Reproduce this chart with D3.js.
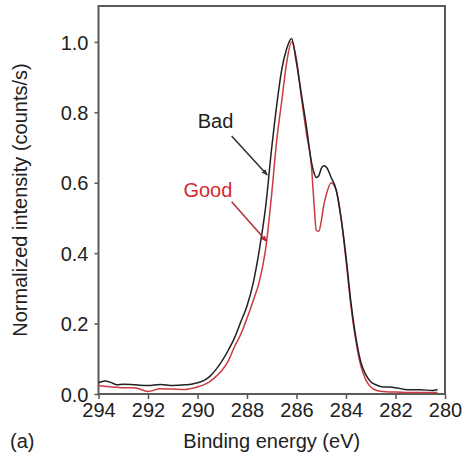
<!DOCTYPE html>
<html>
<head>
<meta charset="utf-8">
<script src="https://cdn.jsdelivr.net/npm/d3@7"></script>
<style>
  html, body { margin: 0; padding: 0; background: #fff; }
  text { font-family: "Liberation Sans", Arial, sans-serif; fill: #222; }
</style>
</head>
<body>
<div id="chart"></div>
<script>
// binding energies (eV), shared by both spectra
const energies = [294, 293.75, 293.5, 293.25, 293, 292.5, 292, 291.5, 291, 290.5, 290.25, 290,
  289.75, 289.5, 289.25, 289, 288.75, 288.5, 288.25, 288, 287.75, 287.5, 287.25, 287,
  286.8, 286.6, 286.4, 286.2, 286.0, 285.8, 285.6, 285.4, 285.3, 285.2, 285.1, 285.0,
  284.9, 284.8, 284.6, 284.4, 284.2, 284.0, 283.8, 283.6, 283.4, 283.2, 283.0, 282.75,
  282.5, 282.25, 282, 281.5, 281, 280.5, 280.3];

const badValues = [0.032, 0.037, 0.033, 0.026, 0.028, 0.026, 0.024, 0.027, 0.024, 0.026, 0.028, 0.032,
  0.038, 0.05, 0.07, 0.095, 0.125, 0.16, 0.205, 0.25, 0.315, 0.41, 0.53, 0.7,
  0.82, 0.92, 0.98, 1.01, 0.94, 0.85, 0.76, 0.66, 0.63, 0.615, 0.62, 0.64,
  0.648, 0.645, 0.615, 0.58, 0.5, 0.39, 0.26, 0.16, 0.09, 0.055, 0.035, 0.025,
  0.02, 0.02, 0.018, 0.012, 0.012, 0.01, 0.013];

const goodValues = [0.024, 0.022, 0.02, 0.019, 0.018, 0.017, 0.007, 0.015, 0.014, 0.013, 0.016, 0.02,
  0.026, 0.035, 0.05, 0.068, 0.095, 0.135, 0.17, 0.215, 0.265, 0.32, 0.41, 0.57,
  0.72, 0.83, 0.94, 1.0, 0.95, 0.84, 0.74, 0.65, 0.55, 0.465, 0.462, 0.49,
  0.535, 0.565, 0.6, 0.58, 0.5, 0.38, 0.25, 0.15, 0.08, 0.04, 0.02, 0.01,
  0.007, 0.006, 0.006, 0.004, 0.004, 0.004, 0.004];

const xTicks = [294, 292, 290, 288, 286, 284, 282, 280];
const yTicks = [0.0, 0.2, 0.4, 0.6, 0.8, 1.0];

// annotations: label position and arrow from/to, in data units
const labels = [
  { text: "Bad",  color: "#222",    lx: 289.27, ly: 0.756, x1: 288.62, y1: 0.733, x2: 287.18, y2: 0.622, arrow: "#333" },
  { text: "Good", color: "#d42a33", lx: 289.58, ly: 0.56,  x1: 288.62, y1: 0.546, x2: 287.2,  y2: 0.433, arrow: "#b0323c" }
];

const W = 469, H = 459;
const margin = { top: 6, right: 24, bottom: 65, left: 98.5 };
const width = W - margin.left - margin.right;
const height = H - margin.top - margin.bottom;

const svg = d3.select('#chart').append('svg')
  .attr('width', W)
  .attr('height', H);

const g = svg.append('g')
  .attr('transform', `translate(${margin.left},${margin.top})`);

const x = d3.scaleLinear().domain([294, 280]).range([0, width]);
const y = d3.scaleLinear().domain([0, 1.102]).range([height, 0]);

// axes
const xAxis = g.append('g')
  .attr('transform', `translate(0,${height})`)
  .call(d3.axisBottom(x).tickValues(xTicks).tickSize(5).tickPadding(4).tickFormat(d3.format('d')));
const yAxis = g.append('g')
  .call(d3.axisLeft(y).tickValues(yTicks).tickSize(4).tickPadding(6).tickFormat(d3.format('.1f')));

[xAxis, yAxis].forEach(a => {
  a.select('.domain').remove();
  a.selectAll('.tick line').attr('stroke', '#555').attr('stroke-width', 1.5);
  a.selectAll('.tick text').attr('font-size', 20).attr('fill', '#222')
    .style('font-family', '"Liberation Sans", Arial, sans-serif');
});
yAxis.selectAll('.tick text').attr('dy', '0.36em');

// frame
g.append('rect')
  .attr('x', 0).attr('y', 0)
  .attr('width', width).attr('height', height)
  .attr('fill', 'none')
  .attr('stroke', '#5a5a5a')
  .attr('stroke-width', 2);

// spectra
const line = d3.line()
  .x(d => x(d[0]))
  .y(d => y(d[1]))
  .curve(d3.curveMonotoneX);

g.append('path')
  .datum(energies.map((e, i) => [e, goodValues[i]]))
  .attr('fill', 'none')
  .attr('stroke', '#cc3a42')
  .attr('stroke-width', 1.5)
  .attr('d', line);

g.append('path')
  .datum(energies.map((e, i) => [e, badValues[i]]))
  .attr('fill', 'none')
  .attr('stroke', '#222')
  .attr('stroke-width', 1.5)
  .attr('d', line);

// arrow heads
const defs = svg.append('defs');
labels.forEach((l, i) => {
  defs.append('marker')
    .attr('id', 'arr' + i)
    .attr('viewBox', '0 0 10 10')
    .attr('refX', 9).attr('refY', 5)
    .attr('markerWidth', 4).attr('markerHeight', 4)
    .attr('orient', 'auto')
    .append('path')
    .attr('d', 'M0,1 L10,5 L0,9 Z')
    .attr('fill', l.arrow);

  g.append('line')
    .attr('x1', x(l.x1)).attr('y1', y(l.y1))
    .attr('x2', x(l.x2)).attr('y2', y(l.y2))
    .attr('stroke', l.arrow)
    .attr('stroke-width', 1.6)
    .attr('marker-end', `url(#arr${i})`);

  g.append('text')
    .attr('x', x(l.lx)).attr('y', y(l.ly))
    .attr('text-anchor', 'middle')
    .attr('font-size', 20)
    .style('fill', l.color)
    .text(l.text);
});

// axis titles
svg.append('text')
  .attr('x', margin.left + width / 2)
  .attr('y', 448)
  .attr('text-anchor', 'middle')
  .attr('font-size', 20)
  .text('Binding energy (eV)');

svg.append('text')
  .attr('transform', `translate(27,${margin.top + height / 2}) rotate(-90)`)
  .attr('text-anchor', 'middle')
  .attr('font-size', 20)
  .text('Normalized intensity (counts/s)');

svg.append('text')
  .attr('x', 10)
  .attr('y', 448)
  .attr('font-size', 20)
  .text('(a)');
</script>
</body>
</html>
